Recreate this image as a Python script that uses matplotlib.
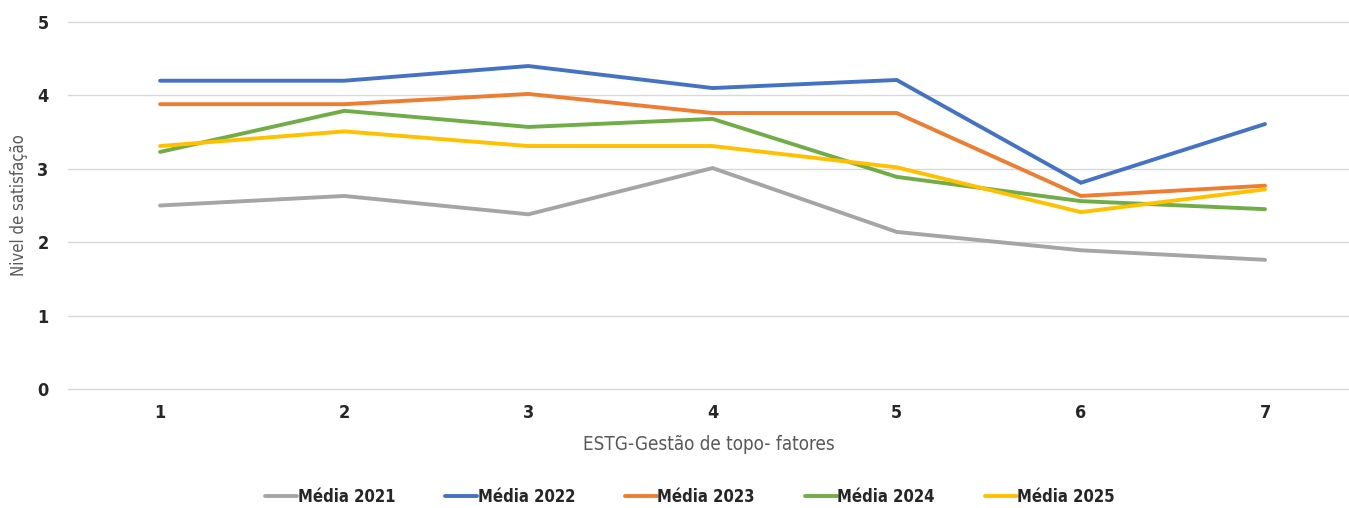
import matplotlib
matplotlib.use("Agg")
import matplotlib.pyplot as plt

plt.rcParams['font.family'] = ['DejaVu Sans']
plt.rcParams['font.stretch'] = 'condensed'

categories = [1, 2, 3, 4, 5, 6, 7]
series_names = ["Média 2021", "Média 2022", "Média 2023", "Média 2024", "Média 2025"]
media_2021 = [2.50, 2.63, 2.38, 3.01, 2.14, 1.89, 1.76]
media_2022 = [4.20, 4.20, 4.40, 4.10, 4.21, 2.81, 3.61]
media_2023 = [3.88, 3.88, 4.02, 3.76, 3.76, 2.63, 2.77]
media_2024 = [3.23, 3.79, 3.57, 3.68, 2.89, 2.56, 2.45]
media_2025 = [3.31, 3.51, 3.31, 3.31, 3.02, 2.41, 2.72]
colors = ["#A5A5A5", "#4472C4", "#ED7D31", "#70AD47", "#FFC000"]
yticks = [0, 1, 2, 3, 4, 5]

fig = plt.figure(figsize=(13.49, 5.08), dpi=100)
ax = fig.add_axes([68/1349, 1 - 389/508, 1 - 68/1349, (389 - 22)/508])

for name, vals, c in zip(series_names, [media_2021, media_2022, media_2023, media_2024, media_2025], colors):
    ax.plot(categories, vals, color=c, lw=2.8, label=name, solid_capstyle='round', solid_joinstyle='miter')

ax.set_xlim(0.5, 7 + (1349 - 1265) / 184.2)
ax.set_ylim(0, 5)
ax.set_yticks(yticks)
ax.set_xticks(categories)
ax.yaxis.grid(True, color="#D9D9D9", lw=1)
for gl in ax.get_ygridlines():
    gl.set_clip_on(False)
ax.set_axisbelow(True)
for s in ax.spines.values():
    s.set_visible(False)
ax.tick_params(axis='both', length=0, labelsize=13, labelcolor="#262626")
for lab in ax.get_xticklabels() + ax.get_yticklabels():
    lab.set_fontweight('bold')
ax.tick_params(axis='x', pad=11)
ax.tick_params(axis='y', pad=14)

ax.set_ylabel("Nivel de satisfação", fontsize=12, color="#595959")
ax.yaxis.set_label_coords(-40/1281, 0.5)
ax.set_xlabel("ESTG-Gestão de topo- fatores", fontsize=13.5, color="#595959", labelpad=9)

leg = fig.legend(loc='center', bbox_to_anchor=(690/1349, 1 - 497/508), ncol=5, frameon=False,
                 fontsize=12, handlelength=1.9, columnspacing=3.0, handletextpad=0.05)
for t in leg.get_texts():
    t.set_fontweight('bold')
    t.set_color("#262626")

fig.savefig("out.png", dpi=100, facecolor="white")
